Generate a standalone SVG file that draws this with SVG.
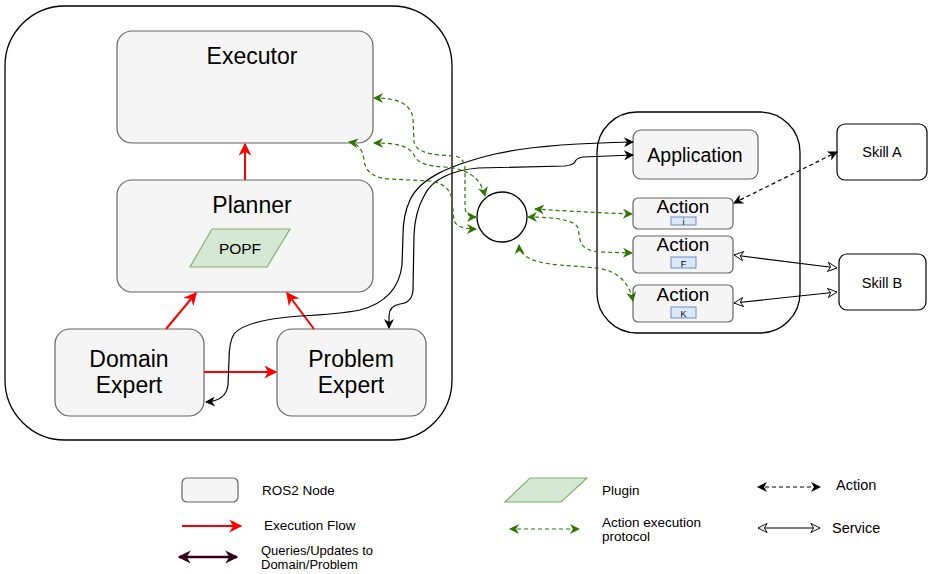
<svg xmlns="http://www.w3.org/2000/svg" width="929" height="574" viewBox="0 0 929 574">
  <style>
    text { font-family: "Liberation Sans", Arial, sans-serif; fill: #000; }
    .frame { fill: #fff; stroke: #000; stroke-width: 1.3; }
    .ros { fill: #f5f5f5; stroke: #666; stroke-width: 1.2; }
    .skill { fill: #fff; stroke: #000; stroke-width: 1.2; }
    .plugin { fill: #d5e8d4; stroke: #82b366; stroke-width: 1.2; }
    .tag { fill: #dae8fc; stroke: #6c8ebf; stroke-width: 1; }
    .big { font-size: 23px; text-anchor: middle; }
    .mid { font-size: 19px; text-anchor: middle; }
    .lbl { font-size: 13.5px; }
    .flow { fill: none; stroke: #ff0000; stroke-width: 2; marker-end: url(#arrR); }
    .proto { fill: none; stroke: #2d7600; stroke-width: 1.2; stroke-dasharray: 4 3; marker-start: url(#arrG); marker-end: url(#arrG); }
    .query { fill: none; stroke: #000; stroke-width: 1.2; }
    .act { fill: none; stroke: #000; stroke-width: 1.2; stroke-dasharray: 4 3; marker-start: url(#arrK); marker-end: url(#arrK); }
    .srv { fill: none; stroke: #000; stroke-width: 1.2; marker-start: url(#arrO); marker-end: url(#arrO); }
  </style>
  <defs>
    <marker id="arrR" viewBox="0 0 10 10" refX="9" refY="5" markerWidth="14" markerHeight="13" markerUnits="userSpaceOnUse" orient="auto-start-reverse">
      <path d="M0,0 L10,5 L0,10 L3,5 Z" fill="#ff0000"/>
    </marker>
    <marker id="arrG" viewBox="0 0 10 10" refX="9" refY="5" markerWidth="11" markerHeight="10" markerUnits="userSpaceOnUse" orient="auto-start-reverse">
      <path d="M0,0 L10,5 L0,10 L3,5 Z" fill="#2d7600"/>
    </marker>
    <marker id="arrK" viewBox="0 0 10 10" refX="9" refY="5" markerWidth="11" markerHeight="10" markerUnits="userSpaceOnUse" orient="auto-start-reverse">
      <path d="M0,0 L10,5 L0,10 L3,5 Z" fill="#000"/>
    </marker>
    <marker id="arrM" viewBox="0 0 10 10" refX="9" refY="5" markerWidth="13" markerHeight="14" markerUnits="userSpaceOnUse" orient="auto-start-reverse">
      <path d="M0,0 L10,5 L0,10 L3,5 Z" fill="#33001a"/>
    </marker>
    <marker id="arrO" viewBox="0 0 12 12" refX="11" refY="6" markerWidth="12" markerHeight="11" markerUnits="userSpaceOnUse" orient="auto-start-reverse">
      <path d="M1,1 L11,6 L1,11 L4,6 Z" fill="#fff" stroke="#000" stroke-width="1"/>
    </marker>
  </defs>

  <rect width="929" height="574" fill="#fff"/>

  <!-- planning system container -->
  <g id="planning-system">
    <rect class="frame" x="5" y="6" width="447" height="434" rx="60"/>
  </g>

  <!-- robot side container -->
  <g id="robot-system">
    <rect class="frame" x="597" y="112" width="203" height="221" rx="40"/>
  </g>

  <g id="executor">
    <rect class="ros" x="117" y="31" width="256" height="112" rx="15"/>
    <text class="big" x="252" y="64">Executor</text>
  </g>

  <g id="planner">
    <rect class="ros" x="117" y="180" width="256" height="112" rx="15"/>
    <text class="big" x="252" y="213">Planner</text>
  </g>

  <g id="popf">
    <polygon class="plugin" points="212,229 290,229 267,267 190,267"/>
    <text x="240" y="254" font-size="15.5" text-anchor="middle">POPF</text>
  </g>

  <g id="domain-expert">
    <rect class="ros" x="55" y="329" width="149" height="87" rx="15"/>
    <text class="big" x="129" y="367">Domain</text>
    <text class="big" x="129" y="393">Expert</text>
  </g>

  <g id="problem-expert">
    <rect class="ros" x="277" y="329" width="149" height="87" rx="15"/>
    <text class="big" x="351" y="367">Problem</text>
    <text class="big" x="351" y="393">Expert</text>
  </g>

  <g id="hub">
    <circle cx="502" cy="217" r="25" fill="#fff" stroke="#000" stroke-width="1.3"/>
  </g>

  <g id="application">
    <rect class="ros" x="633" y="130" width="125" height="49" rx="8"/>
    <text x="695" y="162" font-size="19.5" text-anchor="middle">Application</text>
  </g>

  <g id="action-i">
    <rect class="ros" x="633" y="198" width="100" height="31" rx="5"/>
    <text class="mid" x="683" y="213">Action</text>
    <rect class="tag" x="671" y="217" width="25" height="8"/>
    <text x="683.5" y="224.5" font-size="9" text-anchor="middle">i</text>
  </g>

  <g id="action-f">
    <rect class="ros" x="633" y="236" width="100" height="37" rx="5"/>
    <text class="mid" x="683" y="251">Action</text>
    <rect class="tag" x="671" y="257" width="25" height="11"/>
    <text x="683.5" y="266.5" font-size="9" text-anchor="middle">F</text>
  </g>

  <g id="action-k">
    <rect class="ros" x="633" y="285" width="100" height="37" rx="5"/>
    <text class="mid" x="683" y="301">Action</text>
    <rect class="tag" x="671" y="307" width="25" height="11"/>
    <text x="683.5" y="316.5" font-size="9" text-anchor="middle">K</text>
  </g>

  <g id="skill-a">
    <rect class="skill" x="837" y="124" width="90" height="56" rx="8"/>
    <text x="882" y="157" font-size="14.5" text-anchor="middle">Skill A</text>
  </g>

  <g id="skill-b">
    <rect class="skill" x="839" y="254" width="87" height="56" rx="8"/>
    <text x="882" y="288" font-size="14.5" text-anchor="middle">Skill B</text>
  </g>

  <g id="connectors">
    <!-- execution flow -->
    <path class="flow" d="M245,180 L245,144"/>
    <path class="flow" d="M166,329 L196,293"/>
    <path class="flow" d="M314,329 L287,293"/>
    <path class="flow" d="M204,372 L276,372"/>

    <!-- knowledge queries from the application -->
    <path class="query" marker-start="url(#arrK)" marker-end="url(#arrK)"
          d="M633,142 C580,143 530,146 495,154 C450,165 420,178 410,200 Q403,215 403,235 L402,265 Q398,300 360,310 Q340,314 300,316 Q245,320 234,334 Q229,342 229,360 L228,385 Q226,401 206,402"/>
    <path class="query" marker-start="url(#arrK)" marker-end="url(#arrK)"
          d="M633,155 L583,157 Q576,158 575,162 Q573,165 565,166 L478,168 C455,170 432,178 424,196 Q415,212 414,235 L413,290 Q412,303 400,304 Q389,306 389,316 L389,328"/>

    <!-- action execution protocol -->
    <path class="proto" d="M374,98 C395,98 410,102 413,118 L414,142 Q416,153 440,155 L455,156 Q465,158 465,170 L465,208 Q466,217 476,217"/>
    <path class="proto" d="M374,143 C395,143 410,145 415,157 Q420,166 445,167 C465,169 480,175 485,196"/>
    <path class="proto" d="M349,142 Q362,144 364,160 Q366,178 390,179 L430,181 Q450,184 452,200 L454,220 Q456,229 476,229"/>
    <path class="proto" d="M535,209 Q580,212 632,214"/>
    <path class="proto" d="M528,217 Q573,217 578,228 L580,240 Q583,251 600,252 L632,253"/>
    <path class="proto" d="M519,245 Q520,262 560,265 L597,268 Q627,272 633,301"/>

    <!-- action link to skill A -->
    <path class="act" d="M734,203 L837,152"/>

    <!-- service links to skill B -->
    <path class="srv" d="M734,255 L837,268"/>
    <path class="srv" d="M734,303 L837,292"/>
  </g>

  <!-- key -->
  <g id="legend">
    <rect class="ros" x="182" y="478" width="56" height="24" rx="5"/>
    <text class="lbl" x="262" y="495">ROS2 Node</text>

    <path class="flow" d="M182,526 L241,526"/>
    <text class="lbl" x="264" y="530">Execution Flow</text>

    <path d="M179,557 L237,557" fill="none" stroke="#33001a" stroke-width="2.5" marker-start="url(#arrM)" marker-end="url(#arrM)"/>
    <text x="261" y="555" font-size="13">Queries/Updates to</text>
    <text x="261" y="569" font-size="13">Domain/Problem</text>

    <polygon class="plugin" points="530,478 587,478 561,502 505,502"/>
    <text class="lbl" x="602" y="495">Plugin</text>

    <path class="proto" d="M510,529 L579,529"/>
    <text class="lbl" x="602" y="527">Action execution</text>
    <text class="lbl" x="602" y="541">protocol</text>

    <path class="act" d="M758,487 L820,487"/>
    <text x="836" y="490" font-size="14.5">Action</text>

    <path class="srv" d="M758,528 L820,528"/>
    <text x="832" y="533" font-size="14.5">Service</text>
  </g>
</svg>
